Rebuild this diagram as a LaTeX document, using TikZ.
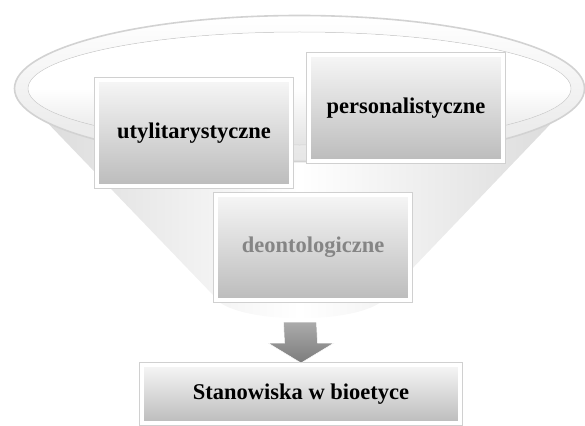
\documentclass[tikz,border=0pt]{standalone}
\usepackage{fontspec}
\setmainfont{Liberation Serif}
\usepackage{tikz}
\usetikzlibrary{positioning,shadows}
\definecolor{rim}{HTML}{E6E6E6}
\definecolor{rimline}{HTML}{D2D2D2}
\definecolor{cone}{HTML}{D8D8D8}
\definecolor{boxtop}{HTML}{F6F6F6}
\definecolor{boxbot}{HTML}{BCBCBC}
\definecolor{frame}{HTML}{D0D0D0}
\definecolor{muted}{HTML}{858585}
\definecolor{arrowtop}{HTML}{ABABAB}
\definecolor{arrowbot}{HTML}{7C7C7C}

\begin{document}
\begin{tikzpicture}[
  x=1pt, y=-1pt,
  font=\fontsize{22.5}{26}\selectfont\bfseries,
  box/.style={preaction={draw=frame, line width=6pt}, draw=white, line width=4pt,
              top color=boxtop, bottom color=boxbot, drop shadow={opacity=.22},
              align=center, inner sep=0pt, minimum width=194pt, minimum height=105pt},
  funnel/.style={left color=cone, right color=cone, middle color=white},
  ring/.style={top color=white, bottom color=rim, even odd rule},
  arrowbody/.style={top color=arrowtop, bottom color=arrowbot, draw=white, line width=0.5pt}
]
  \useasboundingbox (0,0) rectangle (585,425);

  \coordinate (c) at (299.5,88.5);
  \coordinate (fbot) at (300,318);
  \path[funnel] (14.5,88.5) -- (213,295) .. controls (228,326) and (372,326) .. (387,295)
    -- (584.5,88.5) arc[start angle=0, end angle=-180, x radius=285, y radius=73] -- cycle;
  \fill[top color=white, bottom color=gray!22, middle color=white] (c) ellipse[x radius=271.5, y radius=56.5];
  \path[ring] (c) ellipse[x radius=285, y radius=73] (c) ellipse[x radius=271.5, y radius=56.5];
  \draw[rimline, line width=1.6pt] (c) ellipse[x radius=285, y radius=73];
  \draw[rimline, line width=0.5pt] (c) ellipse[x radius=271.5, y radius=56.5];

  \node[box] (util) at (194,133) {utylitarystyczne};
  \node[box] (pers) at (406,108) {personalistyczne};
  \node[box, text=muted] (deon) at (313,247) {deontologiczne};
  \node[box, minimum width=318pt, minimum height=58pt] (stan) at (301,394) {Stanowiska w bioetyce};

  \path[arrowbody] ([xshift=-16.5pt, yshift=-4pt]fbot) -- ([xshift=-16.5pt, yshift=20pt]stan.north)
    -- ([xshift=-33pt, yshift=20pt]stan.north) -- (stan.north)
    -- ([xshift=33pt, yshift=20pt]stan.north) -- ([xshift=16.5pt, yshift=20pt]stan.north)
    -- ([xshift=16.5pt, yshift=-4pt]fbot) -- cycle;
\end{tikzpicture}
\end{document}
